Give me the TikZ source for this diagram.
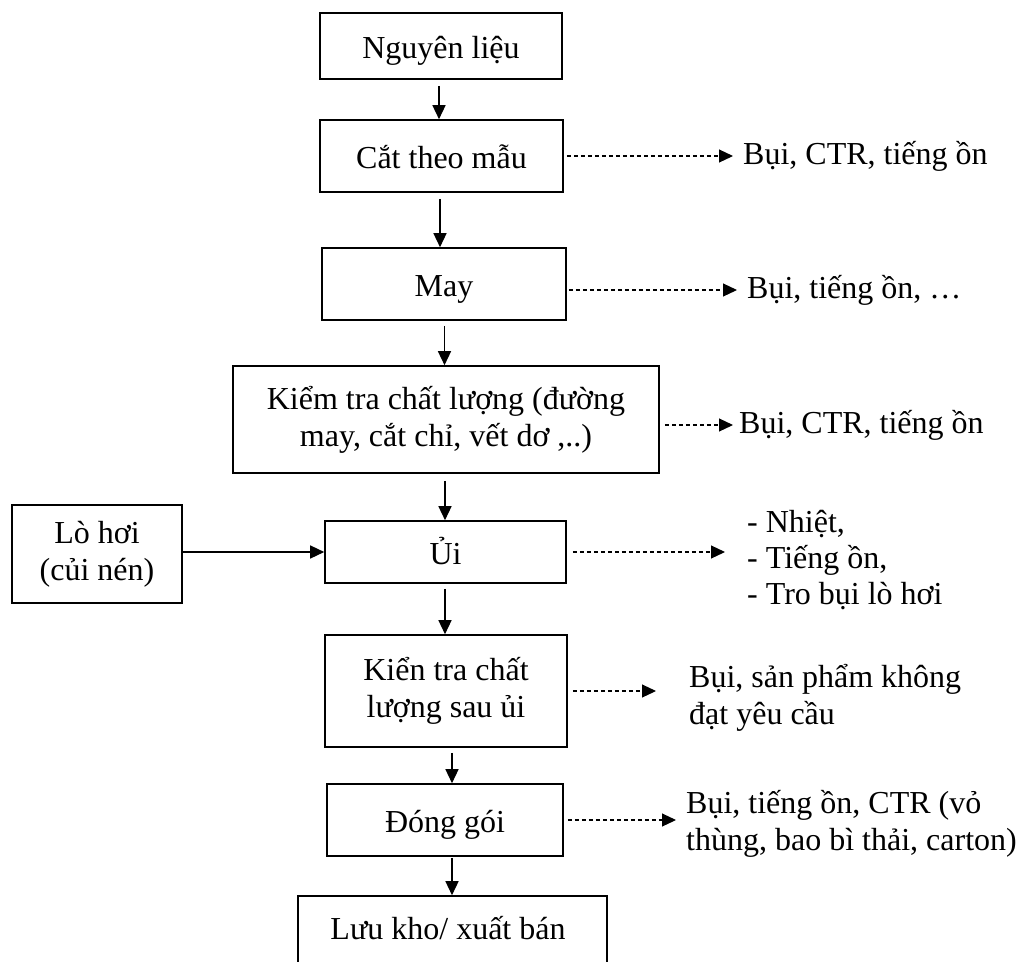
\documentclass[tikz,border=0pt]{standalone}
\usepackage{fontspec}
\setmainfont{Liberation Serif}
\usetikzlibrary{arrows.meta}
\begin{document}
\begin{tikzpicture}[x=1pt,y=-1pt,
  txt/.style={font=\fontsize{32}{37}\selectfont},
  box/.style={txt, draw, line width=1.6pt, inner sep=0pt, align=center},
  oneline/.style={text height=26pt, text depth=2pt},
  note/.style={txt, anchor=west, align=left, inner sep=0pt},
  flow/.style={-{Triangle[length=14pt,width=13pt]}, line width=1.4pt},
  waste/.style={-{Triangle[length=14pt,width=13pt]}, line width=1.1pt,
    dash pattern=on 4pt off 3pt}]
\useasboundingbox (0,0) rectangle (1027,961);
\clip (0,0) rectangle (1027,961);
\fill[white] (0,0) rectangle (1027,961);

% process steps
\node[box, oneline, minimum width=242pt, minimum height=66pt] (n1) at (441,46) {Nguyên liệu};
\node[box, oneline, minimum width=243pt, minimum height=72pt] (n2) at (441.5,156) {Cắt theo mẫu};
\node[box, oneline, minimum width=244pt, minimum height=72pt] (n3) at (444,284) {May};
\node[box, minimum width=426pt, minimum height=107pt] (n4) at (446,419.5)
  {Kiểm tra chất lượng (đường\\may, cắt chỉ, vết dơ ,..)};
\node[box, oneline, minimum width=241pt, minimum height=62pt] (n5) at (445.5,552) {Ủi};
\node[box, minimum width=170pt, minimum height=98pt] (lo) at (97,554) {Lò hơi\\(củi nén)};
\node[box, minimum width=242pt, minimum height=112pt] (n6) at (446,691)
  {Kiển tra chất\\lượng sau ủi};
\node[box, oneline, minimum width=236pt, minimum height=72pt] (n7) at (445,820) {Đóng gói};
\node[box, minimum width=309pt, minimum height=100pt] (n8) at (452.5,946) {};
\node[txt, oneline, inner sep=0pt] (n8t) at (448,927) {Lưu kho/ xuất bán};

% emissions
\node[note] (t2) at (743,156) {Bụi, CTR, tiếng ồn};
\node[note] (t3) at (747,290) {Bụi, tiếng ồn, …};
\node[note] (t4) at (739,425) {Bụi, CTR, tiếng ồn};
\node[note, font=\fontsize{32}{36}\selectfont] (t5) at (747,560)
  {- Nhiệt,\\- Tiếng ồn,\\- Tro bụi lò hơi};
\node[note] (t6) at (689,698) {Bụi, sản phẩm không\\đạt yêu cầu};
\node[note] (t7) at (686,824) {Bụi, tiếng ồn, CTR (vỏ\\thùng, bao bì thải, carton)};

% x positions of the flow arrows
\coordinate (x1) at (439,0);
\coordinate (x2) at (440,0);
\coordinate (x3) at (444.5,0);
\coordinate (x4) at (445,0);
\coordinate (x5) at (452,0);

% main flow
\draw[flow, shorten <=6pt] (n1.south -| x1) -- (n2.north -| x1);
\draw[flow, shorten <=6pt] (n2.south -| x2) -- (n3.north -| x2);
\draw[flow, shorten <=5pt] (n3.south -| x3) -- (n4.north -| x3);
\draw[flow, shorten <=7pt] (n4.south -| x4) -- (n5.north -| x4);
\draw[flow, shorten <=5pt] (n5.south -| x4) -- (n6.north -| x4);
\draw[flow, shorten <=5pt] (n6.south -| x5) -- (n7.north -| x5);
\draw[flow, shorten <=1pt] (n7.south -| x5) -- (n8.north -| x5);
\draw[flow] (lo.east |- n5.west) -- (n5.west);

% waste streams
\draw[waste, shorten <=3pt, shorten >=10pt] (n2.east) -- (n2.east -| t2.west);
\draw[waste, shorten <=2pt, shorten >=10pt] (n3.east |- t3.west) -- (t3.west);
\draw[waste, shorten <=5pt, shorten >=6pt] (n4.east |- t4.west) -- (t4.west);
\draw[waste, shorten <=6pt, shorten >=22pt] (n5.east) -- (n5.east -| t5.west);
\draw[waste, shorten <=5pt, shorten >=33pt] (n6.east) -- (n6.east -| t6.west);
\draw[waste, shorten <=4pt, shorten >=10pt] (n7.east) -- (n7.east -| t7.west);
\end{tikzpicture}
\end{document}
